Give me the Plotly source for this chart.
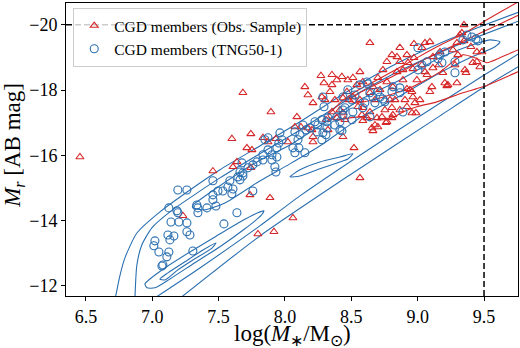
import plotly.graph_objects as go

# ---------------- data ----------------
# CGD members, observed sample (log stellar mass, r-band abs. magnitude)
obs_logm = [6.455, 7.683, 7.600, 7.743, 7.713, 7.751, 7.638, 7.608, 7.457, 7.231,
            7.736, 7.796, 8.565, 7.887, 8.060, 7.917, 7.894, 8.294, 8.278, 8.090,
            7.834, 7.932, 7.872, 8.022, 8.075, 8.173, 8.211, 8.324, 8.437, 8.467,
            7.743, 8.640, 8.972, 9.055, 9.092, 9.333, 9.296, 9.349, 9.401, 9.446,
            9.446, 9.469, 9.356, 9.296, 9.205, 9.281, 9.303, 9.266, 9.160, 9.115,
            9.032, 9.055, 8.919, 8.844, 8.866, 8.927, 8.972, 8.964, 8.889, 8.994,
            9.107, 8.844, 8.738, 8.700, 8.768, 8.813, 8.889, 8.919, 8.957, 8.964,
            8.904, 8.829, 8.806, 8.753, 8.813, 8.768, 8.919, 8.987, 8.663, 8.640,
            8.678, 8.587, 8.542, 8.512, 8.565, 8.550, 8.587, 8.640, 8.618, 8.693,
            8.678, 8.655, 8.512, 8.474, 8.565, 8.482, 8.437, 8.452, 8.391, 8.414,
            8.391, 8.429, 8.354, 8.339, 8.301, 8.354, 8.309, 8.354, 8.376, 8.211,
            8.173, 8.271, 8.150, 9.032, 9.168, 9.115, 8.866, 8.806, 8.768, 9.416,
            9.349, 9.318, 9.484, 8.520, 8.663, 8.700, 8.731, 8.806, 8.761, 8.587,
            8.866, 8.957, 8.979, 8.942, 9.220, 9.364, 9.190, 9.070, 8.716, 8.791,
            8.580, 8.437, 9.017, 9.092, 9.228, 8.203, 8.120, 8.211]
obs_mag = [-15.95, -17.92, -16.51, -16.66, -16.23, -16.17, -15.80, -15.65, -15.52, -14.15,
           -14.79, -13.59, -15.31, -14.70, -14.08, -13.66, -17.33, -18.22, -17.79, -17.18,
           -16.54, -16.51, -16.41, -16.41, -16.87, -16.84, -16.41, -16.78, -16.57, -17.95,
           -15.62, -19.45, -19.42, -19.45, -19.48, -19.755, -19.45, -19.51, -19.33, -19.17,
           -18.87, -18.71, -18.62, -18.22, -18.22, -18.77, -19.08, -19.23, -18.77, -18.68,
           -18.77, -18.56, -19.08, -19.02, -18.87, -18.84, -18.99, -18.65, -18.62, -18.31,
           -18.10, -18.56, -18.62, -18.38, -18.25, -18.10, -18.31, -18.04, -17.95, -17.79,
           -17.70, -17.70, -17.46, -17.39, -17.24, -17.03, -17.49, -17.30, -18.10, -17.92,
           -17.70, -18.25, -18.16, -17.79, -17.70, -17.49, -17.46, -17.33, -17.15, -17.15,
           -16.93, -16.84, -18.38, -18.31, -18.56, -17.70, -17.30, -17.09, -17.15, -17.39,
           -18.31, -18.41, -18.16, -17.95, -17.70, -18.47, -17.09, -17.33, -17.70, -17.61,
           -17.85, -18.44, -18.10, -19.30, -19.17, -19.02, -19.30, -19.08, -18.87, -18.84,
           -20.00, -19.69, -19.17, -16.23, -16.75, -16.87, -17.18, -17.15, -17.00, -17.06,
           -17.39, -17.30, -17.61, -18.01, -18.13, -18.53, -18.53, -18.47, -18.01, -17.70,
           -17.24, -17.76, -17.70, -17.95, -18.16, -16.78, -16.87, -16.57]

# CGD members, TNG50-1
tng_logm = [7.193, 7.457, 7.585, 7.495, 7.532, 7.608, 7.600, 7.645, 7.683, 7.758,
            7.125, 7.186, 7.193, 7.141, 7.336, 7.344, 7.344, 7.412, 7.457, 7.480,
            7.457, 7.570, 7.638, 7.540, 7.201, 7.261, 7.261, 7.284, 7.118, 7.163,
            7.133, 7.020, 7.012, 7.050, 7.125, 7.110, 7.306, 7.080, 7.073, 7.261,
            7.661, 7.932, 8.294, 8.452, 8.437, 8.391, 8.414, 8.376, 8.316, 8.278,
            8.248, 8.316, 8.309, 8.278, 8.241, 8.188, 8.158, 8.113, 8.098, 8.060,
            8.105, 8.150, 8.075, 7.977, 7.954, 7.939, 7.872, 7.902, 7.834, 7.834,
            7.902, 7.939, 7.924, 7.789, 7.758, 7.721, 7.683, 7.676, 7.661, 9.002,
            9.168, 9.205, 9.153, 9.183, 9.281, 9.032, 9.002, 9.281, 9.070, 8.813,
            8.866, 8.806, 8.866, 8.700, 8.716, 8.678, 8.753, 8.663, 8.640, 8.505,
            8.437, 8.512, 8.587, 8.640, 8.505, 8.889, 8.414, 9.409, 9.439, 9.454,
            9.341, 9.371, 8.625, 8.602, 8.437, 8.324, 8.226, 8.429, 8.286, 8.527,
            8.286, 8.618, 8.565, 8.474, 8.135, 8.075, 7.962, 7.872, 7.849, 8.738]
tng_mag = [-14.94, -15.22, -15.22, -14.91, -14.91, -14.97, -14.82, -15.34, -15.37, -14.91,
           -14.39, -14.30, -14.24, -13.96, -14.48, -14.39, -14.24, -14.39, -14.64, -14.45,
           -14.79, -15.03, -14.24, -13.90, -13.96, -13.93, -13.66, -13.56, -13.56, -13.53,
           -13.41, -13.38, -13.23, -13.04, -13.04, -12.89, -13.07, -12.64, -12.61, -14.94,
           -15.49, -15.49, -17.49, -17.46, -17.24, -17.18, -17.03, -16.93, -17.03, -17.09,
           -16.93, -16.84, -16.63, -16.48, -16.72, -16.84, -16.78, -16.63, -16.48, -16.23,
           -16.23, -16.08, -16.08, -16.48, -16.38, -16.23, -16.17, -16.02, -16.02, -15.86,
           -15.86, -15.95, -15.65, -15.80, -15.71, -15.62, -15.46, -15.77, -15.25, -19.30,
           -19.08, -19.17, -18.96, -18.84, -18.87, -18.77, -18.62, -18.53, -18.87, -18.10,
           -18.07, -17.95, -17.92, -17.95, -17.79, -17.61, -17.64, -17.79, -17.92, -17.70,
           -17.39, -17.33, -17.46, -17.18, -17.09, -17.33, -16.78, -19.63, -19.57, -19.51,
           -19.54, -19.69, -18.19, -17.61, -17.79, -17.15, -17.03, -16.75, -16.69, -17.85,
           -17.79, -18.25, -18.16, -18.01, -16.93, -16.72, -16.69, -16.54, -16.48, -17.73]

# TNG50-1 density contours (iso-density lines)
tng_lvl1_upper_x = [6.719, 6.756, 6.794, 6.884, 7.058, 7.284, 7.510, 7.811, 8.113, 8.467, 8.791, 9.092, 9.394, 9.846]
tng_lvl1_upper_y = [-11.57, -12.31, -12.86, -13.62, -14.27, -14.94, -15.56, -16.29, -17.03, -17.95, -18.71, -19.30, -19.82, -20.52]
tng_lvl1_lower_x = [7.193, 7.811, 8.489, 9.168, 9.492, 9.846]
tng_lvl1_lower_y = [-11.57, -13.53, -15.40, -17.21, -18.07, -18.93]
tng_lvl2_upper_x = [6.869, 6.884, 6.922, 6.997, 7.133, 7.306, 7.510, 7.811, 8.113, 8.467, 8.791, 9.092, 9.394, 9.846]
tng_lvl2_upper_y = [-11.57, -12.64, -13.26, -13.78, -14.27, -14.76, -15.31, -16.05, -16.78, -17.70, -18.44, -19.02, -19.54, -20.25]
tng_lvl2_lower_x = [6.997, 7.359, 7.811, 8.113, 8.866, 9.492, 9.846]
tng_lvl2_lower_y = [-11.57, -12.55, -13.84, -14.76, -16.81, -18.44, -19.33]
tng_lvl3_upper_ridge_x = [7.306, 7.359, 7.510, 7.789, 8.037, 8.286, 8.565, 8.866, 9.168, 9.394, 9.544, 9.620,
                          9.582, 9.394, 9.168, 8.866, 8.565, 8.286, 8.037, 7.789, 7.547, 7.397, 7.306, 7.306]
tng_lvl3_upper_ridge_y = [-14.48, -14.64, -15.07, -15.80, -16.32, -16.97, -17.70, -18.31, -18.99, -19.36, -19.54, -19.48,
                          -19.33, -18.99, -18.53, -17.82, -17.15, -16.35, -15.74, -15.16, -14.54, -14.33, -14.39, -14.48]
tng_lvl3_lower_ridge_x = [6.945, 6.982, 7.095, 7.284, 7.472, 7.661, 7.796, 7.841,
                          7.819, 7.698, 7.510, 7.321, 7.133, 7.020, 6.960, 6.945]
tng_lvl3_lower_ridge_y = [-12.06, -12.21, -12.55, -13.04, -13.50, -13.96, -14.24, -14.30,
                          -14.15, -13.75, -13.20, -12.71, -12.21, -11.94, -11.94, -12.06]
tng_lvl3_island_x = [8.037, 8.113, 8.263, 8.414, 8.512, 8.474, 8.414, 8.263, 8.113, 8.037]
tng_lvl3_island_y = [-15.34, -15.56, -15.80, -15.95, -16.05, -15.89, -15.80, -15.59, -15.37, -15.34]
tng_lvl4_x = [7.058, 7.118, 7.246, 7.382, 7.480, 7.450, 7.321, 7.193, 7.095, 7.058]
tng_lvl4_y = [-12.21, -12.40, -12.74, -13.10, -13.32, -13.16, -12.83, -12.49, -12.18, -12.21]

# Observed-sample density contours
obs_lvl1_x = [9.921, 9.756, 9.544, 9.341, 9.145, 8.942, 8.738, 8.542, 8.414, 8.361, 8.324, 8.339,
              8.391, 8.489, 8.587, 8.693, 8.791, 8.889, 8.994, 9.145, 9.341, 9.492, 9.756, 9.921]
obs_lvl1_y = [-21.07, -20.70, -20.21, -19.72, -19.33, -18.87, -18.41, -17.98, -17.61, -17.39, -17.24, -17.15,
              -17.09, -17.15, -17.18, -17.09, -17.12, -17.33, -17.49, -17.64, -17.92, -18.10, -18.56, -18.84]
obs_lvl2_x = [9.921, 9.620, 9.394, 9.168, 9.017, 8.791, 8.565, 8.489, 8.527, 8.716, 8.942, 9.168,
              9.341, 9.431, 9.522, 9.620, 9.756, 9.921]
obs_lvl2_y = [-20.61, -20.03, -19.60, -19.17, -18.87, -18.38, -17.92, -17.70, -17.61, -17.76, -18.07, -18.56,
              -19.08, -18.99, -18.84, -18.99, -19.23, -19.39]

# selection limits
mass_limit = 9.5
mag_limit = -20.0

# axes
x_range = [6.35, 9.756]
y_range = [-11.69, -20.67]
x_tickvals = [6.5, 7.0, 7.5, 8.0, 8.5, 9.0, 9.5]
x_ticktext = ["6.5", "7.0", "7.5", "8.0", "8.5", "9.0", "9.5"]
y_tickvals = [-12, -14, -16, -18, -20]
y_ticktext = ["\u221212", "\u221214", "\u221216", "\u221218", "\u221220"]
x_title = "log(<i>M</i><sub>\u2217</sub>/M<sub>\u2299</sub>)"
y_title = "<i>M<sub>r</sub></i> [AB mag]"

# ---------------- style ----------------
RED = "#d62728"
BLUE = "#2a6fb0"
FONT = "Liberation Serif"

fig = go.Figure()

blue_contours = [
    (tng_lvl1_upper_x, tng_lvl1_upper_y),
    (tng_lvl1_lower_x, tng_lvl1_lower_y),
    (tng_lvl2_upper_x, tng_lvl2_upper_y),
    (tng_lvl2_lower_x, tng_lvl2_lower_y),
    (tng_lvl3_upper_ridge_x, tng_lvl3_upper_ridge_y),
    (tng_lvl3_lower_ridge_x, tng_lvl3_lower_ridge_y),
    (tng_lvl3_island_x, tng_lvl3_island_y),
    (tng_lvl4_x, tng_lvl4_y),
]
for cx, cy in blue_contours:
    fig.add_trace(go.Scatter(x=cx, y=cy, mode="lines", showlegend=False, hoverinfo="skip",
                             line=dict(color=BLUE, width=1.1, shape="spline", smoothing=0.6)))

for cx, cy in [(obs_lvl1_x, obs_lvl1_y), (obs_lvl2_x, obs_lvl2_y)]:
    fig.add_trace(go.Scatter(x=cx, y=cy, mode="lines", showlegend=False, hoverinfo="skip",
                             line=dict(color=RED, width=1.1, shape="spline", smoothing=0.6)))

fig.add_trace(go.Scatter(
    x=obs_logm, y=obs_mag, mode="markers", name="CGD members (Obs. Sample)",
    marker=dict(symbol="triangle-up-open", size=7, color=RED, line=dict(width=1.1, color=RED)),
))
fig.add_trace(go.Scatter(
    x=tng_logm, y=tng_mag, mode="markers", name="CGD members (TNG50-1)",
    marker=dict(symbol="circle-open", size=8, color=BLUE, line=dict(width=1.1, color=BLUE)),
))

fig.add_vline(x=mass_limit, line=dict(color="black", width=1.5, dash="6px,3px"))
fig.add_hline(y=mag_limit, line=dict(color="black", width=1.5, dash="6px,3px"))

axis_common = dict(
    showline=True, linecolor="black", linewidth=1, mirror=True,
    ticks="outside", ticklen=4, tickwidth=1, tickcolor="black",
    showgrid=False, zeroline=False, automargin=False,
    tickfont=dict(family=FONT, size=18, color="black"),
)

fig.update_layout(
    width=520, height=348,
    margin=dict(l=66, r=2, t=3, b=52),
    paper_bgcolor="white", plot_bgcolor="white",
    font=dict(family=FONT, color="black"),
    xaxis=dict(range=x_range, tickvals=x_tickvals, ticktext=x_ticktext, **axis_common),
    yaxis=dict(range=y_range, tickvals=y_tickvals, ticktext=y_ticktext, **axis_common),
    legend=dict(x=0.016, y=0.983, xanchor="left", yanchor="top",
                bgcolor="rgba(255,255,255,0.8)", bordercolor="#cccccc", borderwidth=1,
                font=dict(family=FONT, size=15.5, color="black"),
                tracegroupgap=0, itemwidth=30),
    showlegend=True,
    annotations=[
        dict(text=x_title, xref="paper", yref="paper", x=0.501, y=-0.134,
             xanchor="center", yanchor="middle", showarrow=False,
             font=dict(family=FONT, size=23, color="black")),
        dict(text=y_title, xref="paper", yref="paper", x=-0.114, y=0.514,
             xanchor="center", yanchor="middle", showarrow=False, textangle=-90,
             font=dict(family=FONT, size=23, color="black")),
    ],
)

fig.write_html("out.html", config={"displayModeBar": False},
               post_script="document.body.style.margin='0';document.body.style.padding='0';")
